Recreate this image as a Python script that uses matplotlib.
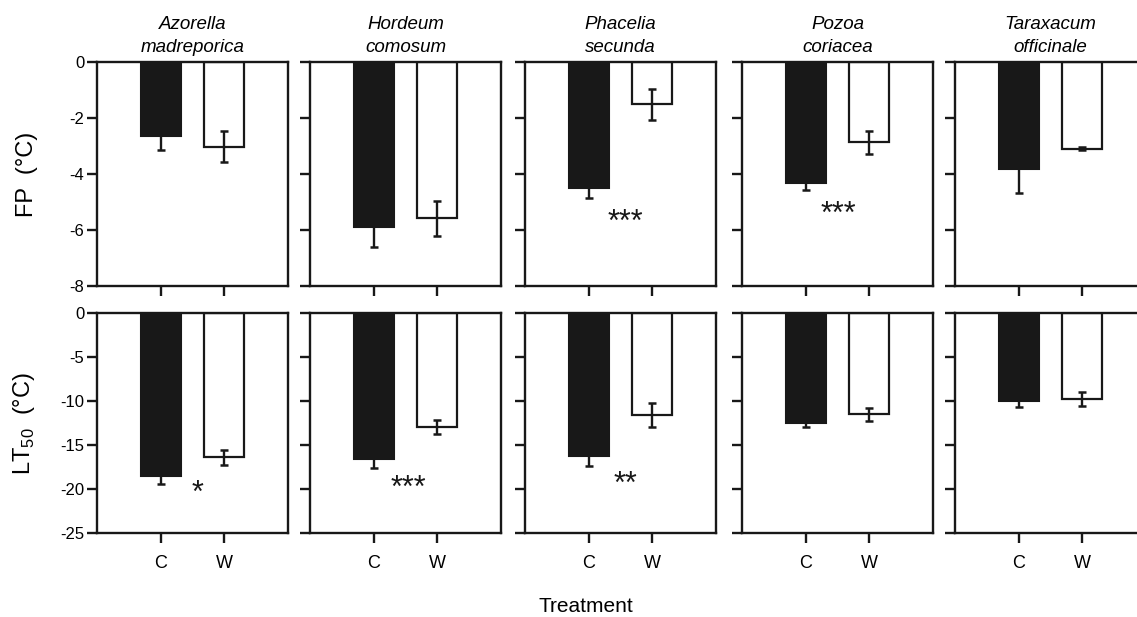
import matplotlib
matplotlib.use('Agg')
import matplotlib.pyplot as plt

plt.rcParams['font.family'] = ['Liberation Sans', 'DejaVu Sans']
plt.rcParams['mathtext.fontset'] = 'custom'
plt.rcParams['mathtext.rm'] = 'Liberation Sans'

# ---------------- data ----------------
species = ['Azorella\nmadreporica', 'Hordeum\ncomosum', 'Phacelia\nsecunda',
           'Pozoa\ncoriacea', 'Taraxacum\nofficinale']
treatments = ['C', 'W']

fp_C = [-2.64, -5.88, -4.49, -4.31, -3.82]
fp_C_err = [0.50, 0.71, 0.38, 0.26, 0.85]
fp_W = [-3.02, -5.58, -1.51, -2.87, -3.10]
fp_W_err = [0.55, 0.63, 0.55, 0.42, 0.05]

lt_C = [-18.5, -16.6, -16.2, -12.5, -10.0]
lt_C_err = [0.95, 1.00, 1.15, 0.40, 0.70]
lt_W = [-16.4, -13.0, -11.6, -11.5, -9.8]
lt_W_err = [0.85, 0.80, 1.40, 0.75, 0.80]

fp_sig = ['', '', '***', '***', '']
lt_sig = ['*', '***', '**', '', '']

fp_ticks = [0, -2, -4, -6, -8]
lt_ticks = [0, -5, -10, -15, -20, -25]

# ---------------- layout ----------------
W_PX, H_PX = 1137, 617
lefts = [97, 310, 525, 742, 955]
width = 191
rows = [(62, 286), (313, 533)]
fp_sig_y = [None, None, -5.75, -5.45, None]
lt_sig_y = [-20.6, -20.0, -19.5, None, None]
sig_x = [0.58, 0.54, 0.57, 0.52, 0.5]

fig = plt.figure(figsize=(W_PX / 100, H_PX / 100), dpi=100)

def make_ax(left, top, bottom):
    return fig.add_axes([left / W_PX, 1 - bottom / H_PX, width / W_PX, (bottom - top) / H_PX])

for i in range(5):
    for r, (top, bottom) in enumerate(rows):
        ax = make_ax(lefts[i], top, bottom)
        if r == 0:
            cm, ce, wm, we = fp_C[i], fp_C_err[i], fp_W[i], fp_W_err[i]
            ticks, ylim, sig, sy = fp_ticks, (-8, 0), fp_sig[i], fp_sig_y[i]
        else:
            cm, ce, wm, we = lt_C[i], lt_C_err[i], lt_W[i], lt_W_err[i]
            ticks, ylim, sig, sy = lt_ticks, (-25, 0), lt_sig[i], lt_sig_y[i]
        ax.bar([0], [cm], width=0.63, color='#181818', edgecolor='#181818', linewidth=1.5, zorder=2)
        ax.bar([1], [wm], width=0.63, color='white', edgecolor='#181818', linewidth=1.6, zorder=2)
        ax.errorbar([0, 1], [cm, wm], yerr=[ce, we], fmt='none', ecolor='#181818',
                    elinewidth=1.7, capsize=3.2, capthick=1.8, zorder=3)
        ax.set_xlim(-1, 2)
        ax.set_ylim(*ylim)
        ax.set_yticks(ticks)
        ax.set_xticks([0, 1])
        for s in ax.spines.values():
            s.set_linewidth(1.7)
            s.set_color('#181818')
        ax.tick_params(axis='both', direction='out', length=7, width=1.7, color='#181818')
        ax.tick_params(axis='y', labelsize=12, pad=2)
        ax.tick_params(axis='x', labelsize=13, pad=9)
        if i == 0:
            ax.set_yticklabels([str(t) for t in ticks])
        else:
            ax.set_yticklabels([])
        if r == 1:
            ax.set_xticklabels(treatments)
        else:
            ax.set_xticklabels([])
            ax.set_title(species[i], fontstyle='italic', fontsize=13.5, pad=7, linespacing=1.45)
        if sig:
            ax.text(sig_x[i], sy, sig, ha='center', va='center', fontsize=22, color='#181818')

fig.text(27 / W_PX, 1 - 174 / H_PX, 'FP  (°C)', rotation=90, ha='center', va='center', fontsize=17)
fig.text(24 / W_PX, 1 - 424 / H_PX, r'LT$_{\mathregular{50}}$  (°C)', rotation=90,
         ha='center', va='center', fontsize=17)
fig.text(586 / W_PX, 1 - 606 / H_PX, 'Treatment', ha='center', va='center', fontsize=15)

fig.savefig('out.png', dpi=100)
